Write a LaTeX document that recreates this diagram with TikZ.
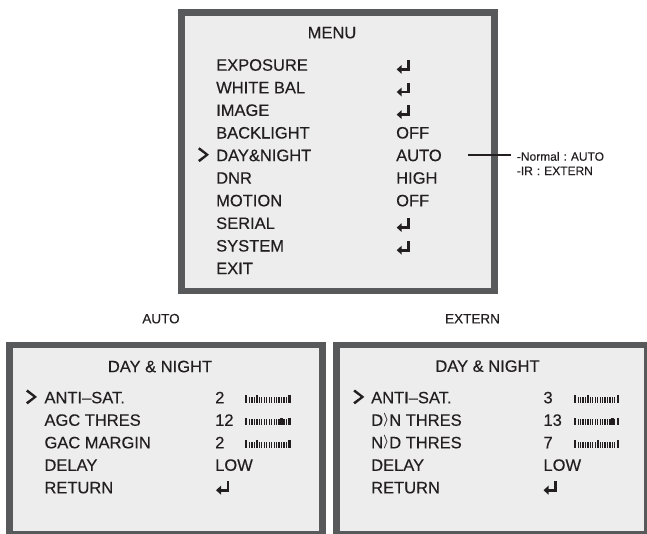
\documentclass[tikz,border=0pt]{standalone}
\usepackage{fontspec}
\setmainfont{Liberation Sans}[BoldFont=Liberation Sans, BoldFeatures={FakeBold=0.35}]
\definecolor{boxfill}{HTML}{EDEDED}
\definecolor{boxedge}{HTML}{58595B}
\definecolor{ink}{HTML}{231F20}
\newcommand\angbr{\raisebox{2.4pt}{\scalebox{0.8}{\boldmath$\rangle$}}}
\tikzset{
  panel/.style={fill=boxfill, draw=boxedge, line width=6.5pt},
  txt/.style={inner sep=0pt, anchor=base west, text=ink, font=\fontsize{16.5}{20}\selectfont\bfseries},
  ttl/.style={txt, anchor=base},
  note/.style={inner sep=0pt, anchor=base west, text=ink, font=\fontsize{12}{14}\selectfont\bfseries},
  caption/.style={inner sep=0pt, anchor=base, text=ink, font=\fontsize{13.5}{16}\selectfont\bfseries},
  retsym/.pic={
    \fill[ink] (10.7,-10.5) rectangle (13.3,0);
    \fill[ink] (4,-2.6) rectangle (13.3,0);
    \fill[ink] (0,-1.3) -- (5,-5.8) -- (5,3.2) -- cycle;
  },
  chev/.pic={
    \fill[ink] (0,-11.8) -- (1.6,-13.8) -- (11,-6.4) -- (1.6,1) -- (0,-1) -- (7.4,-6.4) -- cycle;
  },
  bar/.pic={
    \fill[ink] (0,-8.3) rectangle (2.2,-0.5);
    \fill[ink] (43.3,-8.3) rectangle (45.5,-0.5);
    \pgfmathsetmacro\mk{4.6+2.45*#1}
    \fill[ink] (\mk-1.1,-8.3) rectangle (\mk+1.1,-0.5);
    \foreach \k in {0,...,15} {
      \ifnum\k=#1\relax\else
        \pgfmathsetmacro\tx{4.6+2.45*\k}
        \fill[ink] (\tx-0.6,-6.8) rectangle (\tx+0.6,-0.5);
      \fi
    }
  }
}
\begin{document}
\begin{tikzpicture}[x=1pt,y=-1pt]
\useasboundingbox (0,0) rectangle (647,533);
\clip (0,0) rectangle (647,533);
% panels
\draw[panel] (181.25,12.25) rectangle (494.5,290.75);
\draw[panel] (9.25,345) rectangle (322.5,534.5);
\draw[panel] (336.5,345) rectangle (647.5,534.5);
% main menu
\node[ttl] (menu) at (332,38.3) {MENU};
\node[txt] (m0) at (216,70.7) {EXPOSURE};
\node[txt] (m1) at (216,93.3) {WHITE BAL};
\node[txt] (m2) at (216,115.9) {IMAGE};
\node[txt] (m3) at (216,138.5) {BACKLIGHT};
\node[txt] (m4) at (216,161.1) {DAY\&NIGHT};
\node[txt] (m5) at (216,183.7) {DNR};
\node[txt] (m6) at (216,206.3) {MOTION};
\node[txt] (m7) at (216,228.9) {SERIAL};
\node[txt] (m8) at (216,251.5) {SYSTEM};
\node[txt] (m9) at (216,274.1) {EXIT};
\pic at (198,161.1) {chev};
\pic at (396.7,70.7) {retsym};
\pic at (396.7,93.3) {retsym};
\pic at (396.7,115.9) {retsym};
\node[txt] (v3) at (396,138.5) {OFF};
\node[txt] (v4) at (396,161.1) {AUTO};
\node[txt] (v5) at (396,183.7) {HIGH};
\node[txt] (v6) at (396,206.3) {OFF};
\pic at (396.7,228.9) {retsym};
\pic at (396.7,251.5) {retsym};
% annotation
\node[note] (note1) at (516.7,160.7) {-Normal\hspace{4pt}:\hspace{4pt}AUTO};
\node[note] (note2) at (516.7,175) {-IR\hspace{4pt}:\hspace{4pt}EXTERN};
\coordinate (lstart) at (468.3,155);
\draw[ink, line width=1.4pt, shorten >=6pt] (lstart) -- (lstart -| note1.west);
% captions
\node[caption] (capA) at (161,323.3) {AUTO};
\node[caption] (capE) at (472.5,323.3) {EXTERN};
% left panel
\node[ttl] (lt) at (160,372.2) {DAY \& NIGHT};
\pic at (26,403.3) {chev};
\node[txt] (l0) at (44.3,403.3) {ANTI–SAT.};
\node[txt] (l1) at (44.3,425.8) {AGC THRES};
\node[txt] (l2) at (44.3,448.3) {GAC MARGIN};
\node[txt] (l3) at (44.3,470.8) {DELAY};
\node[txt] (l4) at (44.3,493.3) {RETURN};
\node[txt] (lv0) at (215,403.3) {2};
\node[txt] (lv1) at (215,425.8) {12};
\node[txt] (lv2) at (215,448.3) {2};
\node[txt] (lv3) at (215,470.8) {LOW};
\pic at (216,491.5) {retsym};
\pic at (245,403.3) {bar=3};
\pic at (245,425.8) {bar=13};
\pic at (245,448.3) {bar=3};
% right panel
\node[ttl] (rt) at (487.5,371.8) {DAY \& NIGHT};
\pic at (353.3,403.3) {chev};
\node[txt] (r0) at (371,403.3) {ANTI–SAT.};
\node[txt] (r1) at (371,425.8) {D\angbr N THRES};
\node[txt] (r2) at (371,448.3) {N\angbr D THRES};
\node[txt] (r3) at (371,470.8) {DELAY};
\node[txt] (r4) at (371,493.3) {RETURN};
\node[txt] (rv0) at (543.3,403.3) {3};
\node[txt] (rv1) at (543.3,425.8) {13};
\node[txt] (rv2) at (543.3,448.3) {7};
\node[txt] (rv3) at (543.3,470.8) {LOW};
\pic at (543.5,491.5) {retsym};
\pic at (573.5,403.3) {bar=4};
\pic at (573.5,425.8) {bar=14};
\pic at (573.5,448.3) {bar=8};
\end{tikzpicture}
\end{document}
